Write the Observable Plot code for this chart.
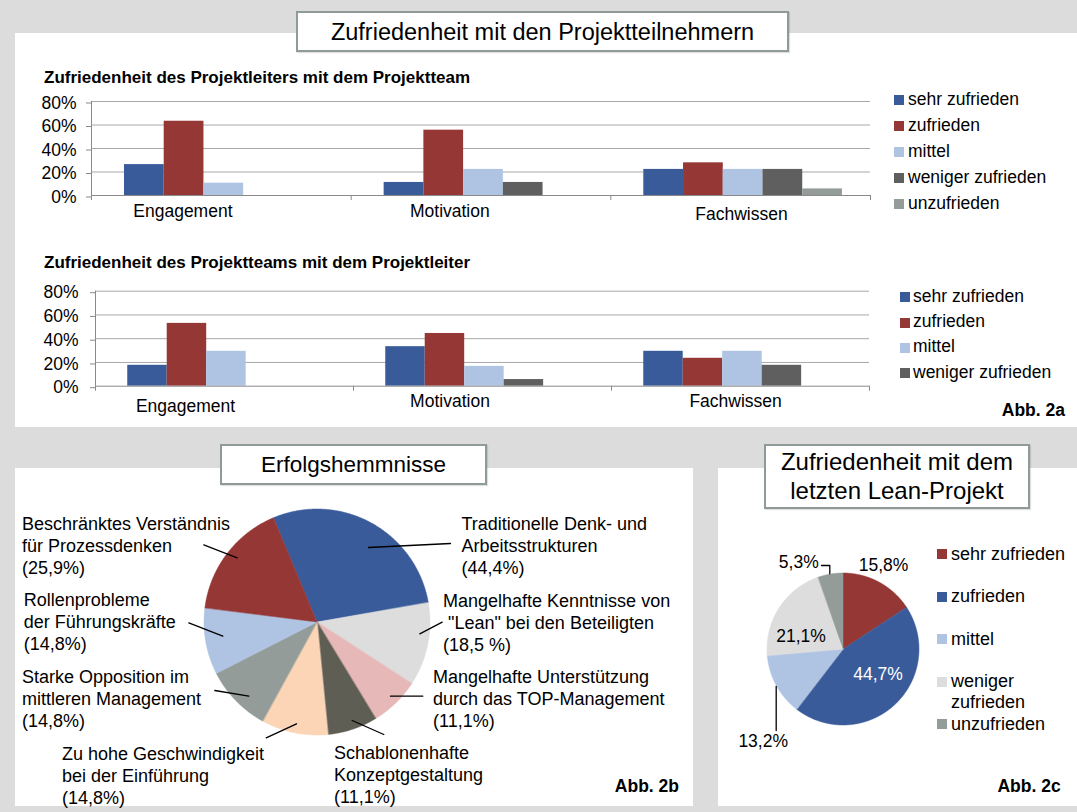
<!DOCTYPE html>
<html><head><meta charset="utf-8">
<script src="https://cdn.jsdelivr.net/npm/d3@7"></script>
<script src="https://cdn.jsdelivr.net/npm/@observablehq/plot@0.6"></script>
<style>
html,body{margin:0;padding:0;background:#dcdcdc;}
#root{position:relative;width:1077px;height:812px;background:#dcdcdc;overflow:hidden;font-family:"Liberation Sans",Arial,Helvetica,sans-serif;color:#000;}
.panel{position:absolute;background:#fff;}
.tbox{position:absolute;background:#fff;border:2px solid #909a97;box-sizing:border-box;box-shadow:1px 1px 1px rgba(0,0,0,0.12);}
.sw{position:absolute;}
.txt{position:absolute;white-space:nowrap;line-height:1;}
</style></head><body><div id="root"></div>
<script>
// ---------------- DATA ----------------
const categories = ["Engagement", "Motivation", "Fachwissen"];
const seriesNames = ["sehr zufrieden", "zufrieden", "mittel", "weniger zufrieden", "unzufrieden"];
const yTicks = [0, 20, 40, 60, 80];

// Zufriedenheit des Projektleiters mit dem Projektteam (%), per series, per category
const leiterSehrZufrieden = [26.3, 11.1, 22.2];
const leiterZufrieden     = [63.2, 55.6, 27.8];
const leiterMittel        = [10.5, 22.2, 22.2];
const leiterWeniger       = [0, 11.1, 22.2];
const leiterUnzufrieden   = [0, 0, 5.6];

// Zufriedenheit des Projektteams mit dem Projektleiter (%)
const teamSehrZufrieden = [17.6, 33.3, 29.4];
const teamZufrieden     = [52.9, 44.4, 23.5];
const teamMittel        = [29.4, 16.7, 29.4];
const teamWeniger       = [0, 5.6, 17.6];
const teamUnzufrieden   = [0, 0, 0];
const teamLegend = ["sehr zufrieden", "zufrieden", "mittel", "weniger zufrieden"];

// Erfolgshemmnisse (Mehrfachnennungen, %)
const hemmnisNames = [
  "Traditionelle Denk- und Arbeitsstrukturen",
  "Mangelhafte Kenntnisse von \"Lean\" bei den Beteiligten",
  "Mangelhafte Unterstützung durch das TOP-Management",
  "Schablonenhafte Konzeptgestaltung",
  "Zu hohe Geschwindigkeit bei der Einführung",
  "Starke Opposition im mittleren Management",
  "Rollenprobleme der Führungskräfte",
  "Beschränktes Verständnis für Prozessdenken"
];
const hemmnisValues = [44.4, 18.5, 11.1, 11.1, 14.8, 14.8, 14.8, 25.9];
const hemmnisLabels = [
  "Traditionelle Denk- und\nArbeitsstrukturen\n(44,4%)",
  "Mangelhafte Kenntnisse von\n\u00a0\"Lean\" bei den Beteiligten\n(18,5 %)",
  "Mangelhafte Unterstützung\ndurch das TOP-Management\n(11,1%)",
  "Schablonenhafte\nKonzeptgestaltung\n(11,1%)",
  "Zu hohe Geschwindigkeit\nbei der Einführung\n(14,8%)",
  "Starke Opposition im\nmittleren Management\n(14,8%)",
  "Rollenprobleme\nder Führungskräfte\n(14,8%)",
  "Beschränktes Verständnis\nfür Prozessdenken\n(25,9%)"
];

// Zufriedenheit mit dem letzten Lean-Projekt (%)
const leanNames = ["sehr zufrieden", "zufrieden", "mittel", "weniger zufrieden", "unzufrieden"];
const leanValues = [15.8, 44.7, 13.2, 21.1, 5.3];
const leanLabels = ["15,8%", "44,7%", "13,2%", "21,1%", "5,3%"];

// ---------------- STYLES / LAYOUT ----------------
const FONT = '"Liberation Sans", Arial, Helvetica, sans-serif';
const barColors = ["#3a5b9a", "#953735", "#afc3e3", "#5f5f5f", "#949c99"];
const hemmnisColors = ["#3a5b9a", "#dddddd", "#e6b9b8", "#5f5e55", "#fbd5b5", "#949c99", "#afc3e3", "#953735"];
const leanColors = ["#953735", "#3a5b9a", "#afc3e3", "#dddddd", "#949c99"];

const root = document.getElementById("root");
function box(cls, x, y, w, h) {
  const d = document.createElement("div"); d.className = cls;
  Object.assign(d.style, {left: x + "px", top: y + "px", width: w + "px", height: h + "px"});
  root.appendChild(d); return d;
}
function label(str, x, baseline, {size = 17.5, weight = "normal", anchor = "start", color = "#000"} = {}) {
  const d = document.createElement("div"); d.className = "txt";
  d.textContent = str;
  d.style.fontSize = size + "px"; d.style.fontWeight = weight; d.style.color = color;
  d.style.top = (baseline - 0.8465 * size) + "px";
  if (anchor === "end") d.style.right = (1077 - x) + "px";
  else if (anchor === "middle") { d.style.left = x + "px"; d.style.transform = "translateX(-50%)"; }
  else d.style.left = x + "px";
  root.appendChild(d); return d;
}
function place(svg, x, y) {
  svg.style.position = "absolute"; svg.style.left = x + "px"; svg.style.top = y + "px";
  svg.style.maxWidth = "none";
  root.appendChild(svg);
}
function legend(names, colors, swX, textX, centers, size) {
  names.forEach((n, i) => {
    const s = box("sw", swX, centers[i] - 5, 10, 10); s.style.background = colors[i];
    const lines = n.length > 15 && size > 17.6 ? n.split(" ") : [n];
    lines.forEach((ln, k) => label(ln, textX, centers[i] + 5.5 + k * 20.6, {size}));
  });
}

// panels
box("panel", 15, 33, 1062, 394);
box("panel", 15, 468, 678, 338);
box("panel", 718, 468, 359, 338);

// ---------------- BAR CHARTS ----------------
function barChart({width, height, marginLeft, marginRight, marginTop, marginBottom, values, labelPos, tickPadding, off}) {
  const rows = [];
  seriesNames.forEach((s, si) => categories.forEach((c, ci) =>
    rows.push({category: c, series: s, ci, si, value: values[si][ci]})));
  const w = 0.153;
  return Plot.plot({
    width, height, marginLeft, marginRight, marginTop, marginBottom,
    style: {fontFamily: FONT, fontSize: "17.5px", background: "transparent", color: "#000"},
    x: {domain: [0, 3], axis: null, label: null},
    y: {domain: [0, 80], axis: null, label: null},
    color: {domain: seriesNames, range: barColors},
    marks: [
      Plot.ruleY(yTicks.filter(d => d > 0), {stroke: "#a8a8a8", strokeWidth: 1}),
      Plot.rect(rows.filter(d => d.value > 0), {
        x1: d => d.ci + off + d.si * w, x2: d => d.ci + off + (d.si + 1) * w,
        y1: 0, y2: "value", fill: "series"}),
      Plot.ruleY([0], {stroke: "#8a8a8a"}),
      Plot.ruleX([0], {stroke: "#8a8a8a"}),
      Plot.axisX({ticks: [0, 1, 2, 3], tickSize: 5, tickFormat: () => "", stroke: "#8a8a8a", label: null}),
      Plot.axisY({ticks: yTicks, tickSize: 5, tickPadding, dy: 1.5, tickFormat: d => d + "%",
        stroke: "#8a8a8a", fill: "#000", fontSize: 17.5, label: null}),
      ...categories.map((c, i) => Plot.text([c], {x: labelPos[i][0], y: 0, dy: labelPos[i][1],
        text: d => d, fontSize: 17.5, fill: "#000"}))
    ]
  });
}

const chart1 = barChart({
  width: 880, height: 170, marginLeft: 91, marginRight: 10, marginTop: 41, marginBottom: 35,
  values: [leiterSehrZufrieden, leiterZufrieden, leiterMittel, leiterWeniger, leiterUnzufrieden],
  labelPos: [[0.352, 16.1], [1.38, 16.1], [2.503, 18.7]], tickPadding: 10, off: 0.127
});
place(chart1, 0, 60);
label("Zufriedenheit des Projektleiters mit dem Projektteam", 44, 83.3, {size: 17, weight: "bold"});
legend(seriesNames, barColors, 894, 908, [100, 126, 152, 178, 204], 17.5);

const chart2 = barChart({
  width: 880, height: 175, marginLeft: 95, marginRight: 11, marginTop: 40.7, marginBottom: 39.3,
  values: [teamSehrZufrieden, teamZufrieden, teamMittel, teamWeniger, teamUnzufrieden],
  labelPos: [[0.349, 20.4], [1.374, 15.4], [2.481, 15.4]], tickPadding: 12, off: 0.125
});
place(chart2, 0, 250);
label("Zufriedenheit des Projektteams mit dem Projektleiter", 44, 268.3, {size: 17, weight: "bold"});
legend(teamLegend, barColors, 900, 913, [297.3, 322.7, 347.7, 373.3], 17.5);

// ---------------- PIES ----------------
function pie({left, top, width, height, cx, cy, r, names, values, colors, startDeg, texts, leaders, fontSize, lineHeight, textAnchor}) {
  const ux = px => (px - cx) / r, uy = py => (cy - py) / r;
  const s0 = startDeg * Math.PI / 180;
  const arcs = d3.pie().sort(null).startAngle(s0).endAngle(s0 + 2 * Math.PI)(values);
  const pts = [];
  arcs.forEach((a, i) => {
    const n = Math.max(2, Math.ceil((a.endAngle - a.startAngle) / (Math.PI / 360)));
    for (let k = 0; k <= n; k++) {
      const t = a.startAngle + (a.endAngle - a.startAngle) * k / n;
      pts.push({name: names[i], x: Math.sin(t), y: Math.cos(t)});
    }
  });
  const leaderPts = [];
  leaders.forEach((l, id) => l.forEach(p => leaderPts.push({id, x: ux(p[0]), y: uy(p[1])})));
  const tdata = texts.map(t => ({text: t.text, white: t.white, x: ux(t.pos[0]), y: uy(t.pos[1])}));
  return Plot.plot({
    width, height, margin: 0,
    style: {fontFamily: FONT, fontSize: fontSize + "px", background: "transparent", color: "#000"},
    x: {domain: [-1, 1], range: [cx - r - left, cx + r - left], axis: null},
    y: {domain: [-1, 1], range: [cy + r - top, cy - r - top], axis: null},
    color: {domain: names, range: colors},
    marks: [
      Plot.area(pts, {x1: "x", y1: "y", x2: 0, y2: 0, z: "name", fill: "name", stroke: "name", strokeWidth: 0.5, curve: "linear"}),
      Plot.line(leaderPts, {x: "x", y: "y", z: "id", stroke: "#000", strokeWidth: 1.3}),
      Plot.text(tdata.filter(d => !d.white), {x: "x", y: "y", text: "text", textAnchor, fontSize, lineHeight, fill: "#000"}),
      Plot.text(tdata.filter(d => d.white), {x: "x", y: "y", text: "text", textAnchor, fontSize, lineHeight, fill: "#fff"})
    ]
  });
}

// layout for 2b labels (page px): text start x, middle-line y
const hemmnisLabelPos = [[461, 544.4], [442.5, 621.1], [432.5, 697.7], [333.5, 773.7],
  [61.5, 774.4], [21.5, 697.1], [23.2, 620.4], [21.5, 544.4]];
const hemmnisLeaders = [
  [[450, 543], [368, 547]], [[441.7, 621.7], [419.3, 633.3]], [[422.3, 695.7], [390, 695.7]],
  [[383.3, 734], [351.7, 720]], [[265.7, 737.3], [296, 723.3]], [[214.3, 690], [248.3, 695.7]],
  [[188.3, 622.3], [222.3, 635.7]], [[203.3, 544.3], [236.7, 557.3]]
];
const pie2b = pie({
  left: 15, top: 468, width: 678, height: 344, cx: 317, cy: 622, r: 113,
  names: hemmnisNames, values: hemmnisValues, colors: hemmnisColors, startDeg: -22.7,
  texts: hemmnisLabels.map((t, i) => ({text: t, pos: hemmnisLabelPos[i]})),
  leaders: hemmnisLeaders, fontSize: 18, lineHeight: 22 / 18, textAnchor: "start"
});
place(pie2b, 15, 468);

const leanLabelPos = [[883, 563.7], [877.5, 672.7], [762.7, 739.4], [800.5, 634.4], [798.3, 560.4]];
const leanLeaders = [[[821, 565], [829.3, 565], [829.3, 573.3]], [[775.7, 686], [775.7, 730]]];
const pie2c = pie({
  left: 718, top: 468, width: 359, height: 338, cx: 843, cy: 649, r: 76,
  names: leanNames, values: leanValues, colors: leanColors, startDeg: 0,
  texts: leanLabels.map((t, i) => ({text: t, pos: leanLabelPos[i], white: i === 1})),
  leaders: leanLeaders, fontSize: 17.5, lineHeight: 1.2, textAnchor: "middle"
});
place(pie2c, 718, 468);
legend(leanNames, leanColors, 937, 951, [554.3, 596.7, 639.3, 681.7, 724.3], 18);

// ---------------- TITLE BOXES & CAPTIONS ----------------
box("tbox", 296, 11, 493, 41);
label("Zufriedenheit mit den Projektteilnehmern", 542.5, 40.7, {size: 23.5, anchor: "middle"});
box("tbox", 220, 444, 267, 41);
label("Erfolgshemmnisse", 353.5, 472.7, {size: 22.5, anchor: "middle"});
box("tbox", 764, 444, 266, 65);
label("Zufriedenheit mit dem", 897, 470.7, {size: 24, anchor: "middle"});
label("letzten Lean-Projekt", 897, 499, {size: 24, anchor: "middle"});

label("Abb. 2a", 1065, 416.7, {size: 17.5, weight: "bold", anchor: "end"});
label("Abb. 2b", 679, 792.7, {size: 17.5, weight: "bold", anchor: "end"});
label("Abb. 2c", 1060.7, 793.3, {size: 17.5, weight: "bold", anchor: "end"});
</script></body></html>
